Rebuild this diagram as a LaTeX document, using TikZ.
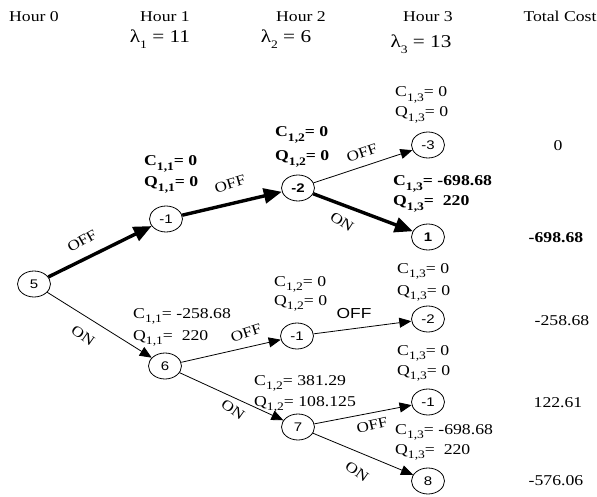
\documentclass[tikz,border=0pt]{standalone}
\usepackage{fontspec}
\setmainfont[FakeStretch=1.18]{Liberation Serif}
\newfontfamily\arialfam[FakeStretch=1.2]{Liberation Sans}
\usetikzlibrary{arrows.meta,shapes.geometric}
\newcommand\mysub[1]{\raisebox{-0.33em}{\fontsize{11.5}{11.5}\selectfont #1}}
\begin{document}
\begin{tikzpicture}[x=1pt,y=-1pt,
 st/.style={ellipse,draw,line width=0.8pt,minimum width=33pt,minimum height=26pt,inner sep=0pt,font=\arialfam\fontsize{12.5}{12.5}\selectfont},
 stb/.style={st,font=\arialfam\fontsize{12.5}{12.5}\selectfont\bfseries},
 thinarr/.style={line width=0.8pt,-{Triangle[length=12pt,width=10pt]}},
 thickarr/.style={line width=3.4pt,-{Triangle[length=18pt,width=15pt]}},
 hdr/.style={font=\fontsize{15}{15}\selectfont,anchor=base,inner sep=0pt},
 lam/.style={font=\fontsize{18}{18}\selectfont,anchor=base,inner sep=0pt},
 lb/.style={font=\fontsize{15}{15}\selectfont,anchor=base west,inner sep=0pt},
 lbb/.style={lb,font=\fontsize{15}{15}\selectfont\bfseries},
 el/.style={font=\fontsize{14.5}{14.5}\selectfont,inner sep=0pt},
 tc/.style={font=\fontsize{15}{15}\selectfont,anchor=base,inner sep=0pt}]
\path[use as bounding box,fill=white] (0,0) rectangle (597,497);
% headers
\node[hdr] (h0) at (34,22) {Hour 0};
\node[hdr] (h1) at (165,22) {Hour 1};
\node[hdr] (h2) at (301,22) {Hour 2};
\node[hdr] (h3) at (428,22) {Hour 3};
\node[hdr] (htc) at (560,22) {Total Cost};
\node[lam] (l1h) at (160,43) {λ\mysub{1} = 11};
\node[lam] (l2h) at (286,43) {λ\mysub{2} = 6};
\node[lam] (l3h) at (421,48) {λ\mysub{3} = 13};
% states
\node[st] (n5) at (34,284) {5};
\node[st] (a1) at (166,219) {-1};
\node[stb] (a2) at (298,188) {-2};
\node[st] (a3) at (428,145) {-3};
\node[stb] (b1) at (428,237) {1};
\node[st] (n6) at (165,366) {6};
\node[st] (m1) at (297,336) {-1};
\node[st] (m2) at (428,319) {-2};
\node[st] (n7) at (298,427) {7};
\node[st] (q1) at (428,402) {-1};
\node[st] (n8) at (428,481) {8};
% edges
\draw[thickarr] (n5) -- (a1);
\draw[thickarr] (a1) -- (a2);
\draw[thickarr] (a2) -- (b1);
\draw[thinarr] (a2) -- (a3);
\draw[thinarr] (n5) -- (n6);
\draw[thinarr] (n6) -- (m1);
\draw[thinarr] (m1) -- (m2);
\draw[thinarr] (n6) -- (n7);
\draw[thinarr] (n7) -- (q1);
\draw[thinarr] (n7) -- (n8);
% edge labels
\node[el,rotate=30] (e1) at (82,241) {OFF};
\node[el,rotate=-35] (e2) at (83,336) {ON};
\node[el,rotate=17] (e3) at (230,184) {OFF};
\node[el,rotate=19] (e4) at (362,153) {OFF};
\node[el,rotate=-33] (e5) at (342,222) {ON};
\node[el,rotate=18] (e6) at (246,333) {OFF};
\node[font=\arialfam\fontsize{14.5}{14.5}\selectfont,anchor=base,inner sep=0pt] (e7) at (354,318) {OFF};
\node[el,rotate=-35] (e8) at (233,410) {ON};
\node[el,rotate=13] (e9) at (372,425) {OFF};
\node[el,rotate=-35] (e10) at (357,472) {ON};
% cost labels
\node[lbb] (ca1) at (144,166) {C\mysub{1,1}= 0};
\node[lbb] (qa1) at (144,187) {Q\mysub{1,1}= 0};
\node[lbb] (ca2) at (275,137) {C\mysub{1,2}= 0};
\node[lbb] (qa2) at (275,161) {Q\mysub{1,2}= 0};
\node[lb] (ca3) at (395,97) {C\mysub{1,3}= 0};
\node[lb] (qa3) at (395,117) {Q\mysub{1,3}= 0};
\node[lbb] (cb1) at (393,186) {C\mysub{1,3}= -698.68};
\node[lbb] (qb1) at (393,206) {Q\mysub{1,3}=\ \ 220};
\node[lb] (c6) at (133,318) {C\mysub{1,1}= -258.68};
\node[lb] (q6) at (133,340) {Q\mysub{1,1}=\ \ 220};
\node[lb] (cm1) at (274,286) {C\mysub{1,2}= 0};
\node[lb] (qm1) at (274,305) {Q\mysub{1,2}= 0};
\node[lb] (cm2) at (397,273) {C\mysub{1,3}= 0};
\node[lb] (qm2) at (397,295) {Q\mysub{1,3}= 0};
\node[lb] (cq1) at (397,355) {C\mysub{1,3}= 0};
\node[lb] (qq1) at (397,375) {Q\mysub{1,3}= 0};
\node[lb] (c7) at (254,385) {C\mysub{1,2}= 381.29};
\node[lb] (q7) at (254,406) {Q\mysub{1,2}= 108.125};
\node[lb] (c8) at (395,434) {C\mysub{1,3}= -698.68};
\node[lb] (q8) at (395,454) {Q\mysub{1,3}=\ \ 220};
% total costs
\node[tc] (t1) at (558,151) {0};
\node[tc,font=\fontsize{15}{15}\selectfont\bfseries] (t2) at (556,243) {-698.68};
\node[tc] (t3) at (562,325) {-258.68};
\node[tc] (t4) at (558,407) {122.61};
\node[tc] (t5) at (556,485) {-576.06};
\end{tikzpicture}
\end{document}
